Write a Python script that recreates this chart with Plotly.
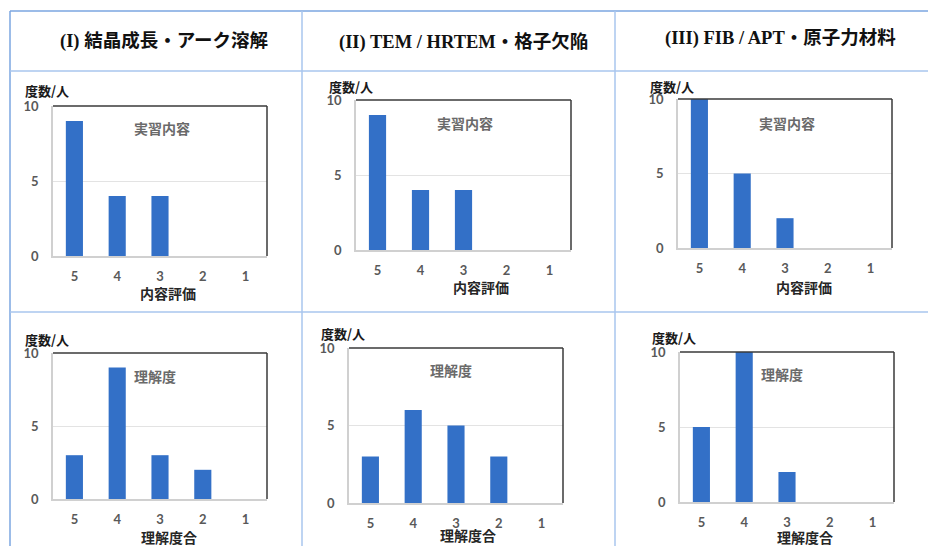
import plotly.graph_objects as go

# ---- data -------------------------------------------------------------
scores = ["5", "4", "3", "2", "1"]

headers = [
    "(I) 結晶成長・アーク溶解",
    "(II) TEM / HRTEM・格子欠陥",
    "(III) FIB / APT・原子力材料",
]

content_I = [9, 4, 4, 0, 0]
content_II = [9, 4, 4, 0, 0]
content_III = [10, 5, 2, 0, 0]

understanding_I = [3, 9, 3, 2, 0]
understanding_II = [3, 6, 5, 3, 0]
understanding_III = [5, 10, 2, 0, 0]

y_label = "度数/人"
row_titles = ["実習内容", "理解度"]
row_xtitles = ["内容評価", "理解度合"]
y_ticks = [0, 5, 10]

# ---- layout geometry (pixels) ----------------------------------------
W, H = 928, 546
BAR = "#3370C7"
GRAY_TXT = "#595959"
JP = "Noto Sans CJK JP"
NUM = "Lato, Liberation Sans, sans-serif"


def px(x):
    return x / W


def py(y):
    return 1 - y / H


# panel boxes: (left, right, top, bottom) in px
panels = [
    (content_I, 0, (53, 267, 106, 256)),
    (content_II, 0, (356, 571, 100, 250)),
    (content_III, 0, (678, 892, 99, 248)),
    (understanding_I, 1, (53, 267, 353, 499)),
    (understanding_II, 1, (349, 563, 348, 503)),
    (understanding_III, 1, (680, 894, 352, 502)),
]

# label positions: y-label (left, y), inner title (cx, y), x-title (cx, y)
ylab_pos = [(23, 91), (327, 86), (648, 86), (23, 339), (319, 333), (650, 337)]
inner_pos = [(162, 128), (465, 123), (787, 123), (155, 376), (451, 370), (782, 374)]
xtitle_pos = [(168, 293), (481, 287), (804, 287), (169, 537), (468, 535), (805, 537)]

fig = go.Figure()
layout = dict(
    width=W,
    height=H,
    autosize=False,
    margin=dict(l=0, r=0, t=0, b=0, pad=0),
    paper_bgcolor="white",
    plot_bgcolor="white",
    showlegend=False,
    bargap=0.6,
)
annotations = []
shapes = []

for i, (vals, row, (l, r, t, b)) in enumerate(panels):
    n = i + 1
    xa = "x" if n == 1 else f"x{n}"
    ya = "y" if n == 1 else f"y{n}"
    fig.add_trace(
        go.Bar(
            x=scores,
            y=vals,
            xaxis=xa,
            yaxis=ya,
            marker=dict(color=BAR, line=dict(width=0)),
            hoverinfo="x+y",
        )
    )
    xkey = "xaxis" if n == 1 else f"xaxis{n}"
    ykey = "yaxis" if n == 1 else f"yaxis{n}"
    layout[xkey] = dict(
        domain=[px(l), px(r)],
        anchor=ya,
        automargin=False,
        type="category",
        categoryorder="array",
        categoryarray=scores,
        showline=True,
        linecolor="#d0d0d0",
        linewidth=1.5,
        showgrid=False,
        ticks="",
        ticklabelstandoff=8,
        tickfont=dict(family=NUM, size=13, color=GRAY_TXT, weight="bold"),
        fixedrange=True,
    )
    layout[ykey] = dict(
        domain=[py(b), py(t)],
        anchor=xa,
        automargin=False,
        range=[0, 10],
        tickvals=y_ticks,
        showline=True,
        linecolor="#d0d0d0",
        linewidth=1.5,
        showgrid=True,
        gridcolor="#e3e3e3",
        gridwidth=1.2,
        zeroline=False,
        ticks="",
        ticklabelstandoff=10,
        tickfont=dict(family=NUM, size=13, color=GRAY_TXT, weight="bold"),
        fixedrange=True,
    )
    # darker top and right frame edges of the plot area
    shapes.append(dict(type="line", xref="paper", yref="paper",
                       x0=px(l), x1=px(r), y0=py(t), y1=py(t),
                       line=dict(color="#3a3a3a", width=1.5), layer="above"))
    shapes.append(dict(type="line", xref="paper", yref="paper",
                       x0=px(r), x1=px(r), y0=py(t), y1=py(b),
                       line=dict(color="#3a3a3a", width=1.5), layer="above"))

    lx, ly = ylab_pos[i]
    annotations.append(dict(
        text=f"<b>{y_label}</b>", x=px(lx), y=py(ly), xref="paper", yref="paper",
        xanchor="left", yanchor="middle", showarrow=False,
        font=dict(family=JP, size=13, color="#1a1a1a"),
    ))
    cx, cy = inner_pos[i]
    annotations.append(dict(
        text=f"<b>{row_titles[row]}</b>", x=px(cx), y=py(cy), xref="paper", yref="paper",
        xanchor="center", yanchor="middle", showarrow=False,
        font=dict(family=JP, size=14, color="#6a6a6a"),
    ))
    tx, ty = xtitle_pos[i]
    annotations.append(dict(
        text=f"<b>{row_xtitles[row]}</b>", x=px(tx), y=py(ty), xref="paper", yref="paper",
        xanchor="center", yanchor="middle", showarrow=False,
        font=dict(family=JP, size=14, color="#262626"),
    ))

# column headers
header_pos = [(164, 41), (463, 42), (780, 39)]
for txt, (hx, hy) in zip(headers, header_pos):
    annotations.append(dict(
        text=f"<b>{txt}</b>", x=px(hx), y=py(hy), xref="paper", yref="paper",
        xanchor="center", yanchor="middle", showarrow=False,
        font=dict(family="Liberation Serif, " + JP, size=18.5, color="#111111"),
    ))

# table grid lines
OUTER = "#7ba6e0"
INNER = "#a9c6ee"
table_lines = [
    (10, 11, 928, 11, OUTER),
    (10, 11, 10, 546, OUTER),
    (10, 71, 928, 71, INNER),
    (10, 312, 928, 312, INNER),
    (302, 11, 302, 546, INNER),
    (615, 11, 615, 546, INNER),
]
for x0, y0, x1, y1, c in table_lines:
    shapes.append(dict(type="line", xref="paper", yref="paper",
                       x0=px(x0), x1=px(x1), y0=py(y0), y1=py(y1),
                       line=dict(color=c, width=1.5), layer="below"))

layout["annotations"] = annotations
layout["shapes"] = shapes
fig.update_layout(**layout)
fig.write_html("out.html")
